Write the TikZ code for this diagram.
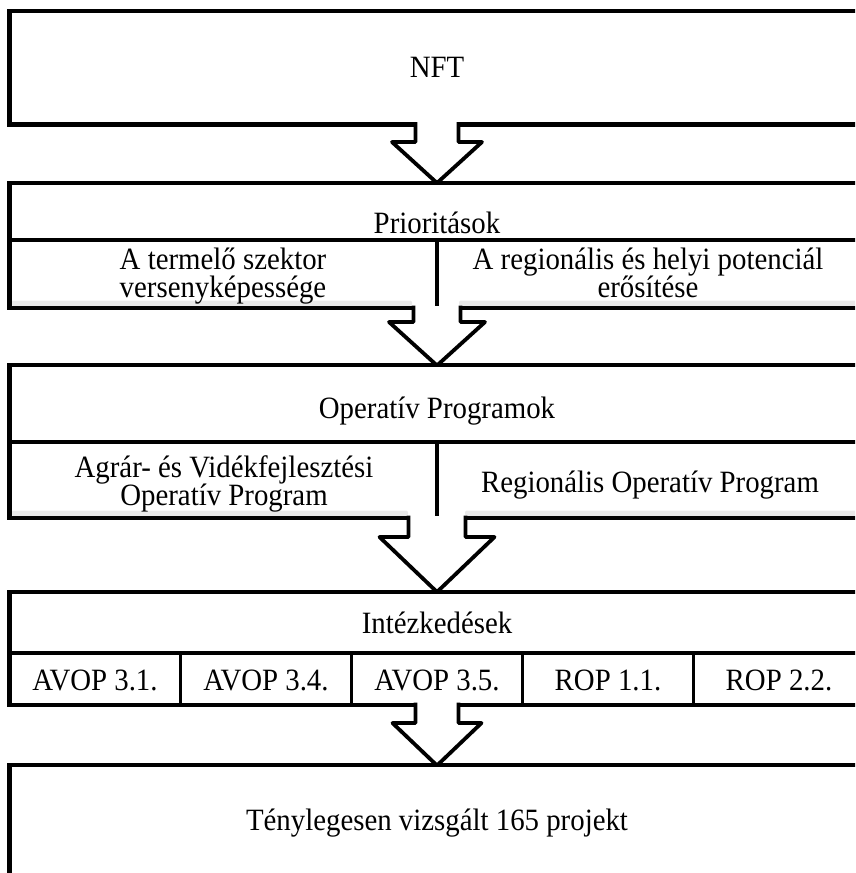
\documentclass[tikz,border=0pt]{standalone}
\usepackage{fontspec}
\setmainfont[FakeStretch=0.93]{Liberation Serif}
\newcommand\blockarr[6]{% #1 name, #2 box bottom y, #3 wing y, #4 tip y, #5 shaft half, #6 wing half
  \fill[white] (437-#5,#2-2.3) rectangle (437+#5,#2+3);
  \coordinate (#1sl) at (437-#5,#2-2.3);
  \coordinate (#1sr) at (437+#5,#2-2.3);
  \coordinate (#1tip) at (437,#4);
  \draw[arrowline] (#1sl) -- (437-#5,#3) -- (437-#6,#3) -- (#1tip) -- (437+#6,#3) -- (437+#5,#3) -- (#1sr);
}
\begin{document}
\begin{tikzpicture}[x=1pt,y=-1pt,
  boxline/.style={line width=4.5pt},
  divline/.style={line width=3.5pt},
  arrowline/.style={line width=3.8pt,line join=round},
  band/.style={fill=black!9,rounded corners=2pt},
  lbl/.style={font=\fontsize{31}{27}\selectfont,inner sep=0pt,anchor=base}]
\useasboundingbox (0,0) rectangle (855,873);
\clip (0,0) rectangle (855,873);
% grey bands
\fill[band] (11,300.5) rectangle (412,305.8);
\fill[band] (459,300.5) rectangle (870,305.8);
\fill[band] (11,510.5) rectangle (408,515.8);
\fill[band] (465,510.5) rectangle (870,515.8);
% boxes
\draw[boxline] (9.5,11) rectangle (864.5,124.5);
\draw[boxline] (9.5,183) rectangle (864.5,308);
\draw[divline] (9.5,240) -- (864.5,240);
\draw[divline] (437,240) -- (437,308);
\draw[boxline] (9.5,365) rectangle (864.5,518);
\draw[divline] (9.5,442) -- (864.5,442);
\draw[divline] (437,442) -- (437,518);
\draw[boxline] (9.5,592) rectangle (864.5,705);
\draw[divline] (9.5,653) -- (864.5,653);
\foreach \xx in {180.5,351.5,522.5,693.5} \draw[divline] (\xx,653) -- (\xx,705);
\draw[boxline] (9.5,765) rectangle (864.5,900);
% block arrows
\blockarr{a}{124.5}{142}{183}{21.5}{45}
\blockarr{b}{308}{322}{365.5}{23.5}{48}
\blockarr{c}{518}{537}{592}{28.5}{57.5}
\blockarr{d}{705}{723}{765.5}{21.5}{44.5}
% texts
\node[lbl] (nft) at (437,77) {NFT};
\node[lbl] (prio) at (437,233) {Prioritások};
\node[lbl] (p1a) at (223,269) {A termelő szektor};
\node[lbl] (p1b) at (223,297.5) {versenyképessége};
\node[lbl] (p2a) at (648,269) {A regionális és helyi potenciál};
\node[lbl] (p2b) at (648,297.5) {erősítése};
\node[lbl] (op) at (437,418) {Operatív Programok};
\node[lbl] (o1a) at (224,477) {Agrár- és Vidékfejlesztési};
\node[lbl] (o1b) at (224,505.5) {Operatív Program};
\node[lbl] (o2) at (650,492) {Regionális Operatív Program};
\node[lbl] (int) at (437,633) {Intézkedések};
\node[lbl] (m1) at (95,690) {AVOP 3.1.};
\node[lbl] (m2) at (266,690) {AVOP 3.4.};
\node[lbl] (m3) at (437,690) {AVOP 3.5.};
\node[lbl] (m4) at (608,690) {ROP 1.1.};
\node[lbl] (m5) at (779,690) {ROP 2.2.};
\node[lbl] (proj) at (437,830) {Ténylegesen vizsgált 165 projekt};
\end{tikzpicture}
\end{document}
